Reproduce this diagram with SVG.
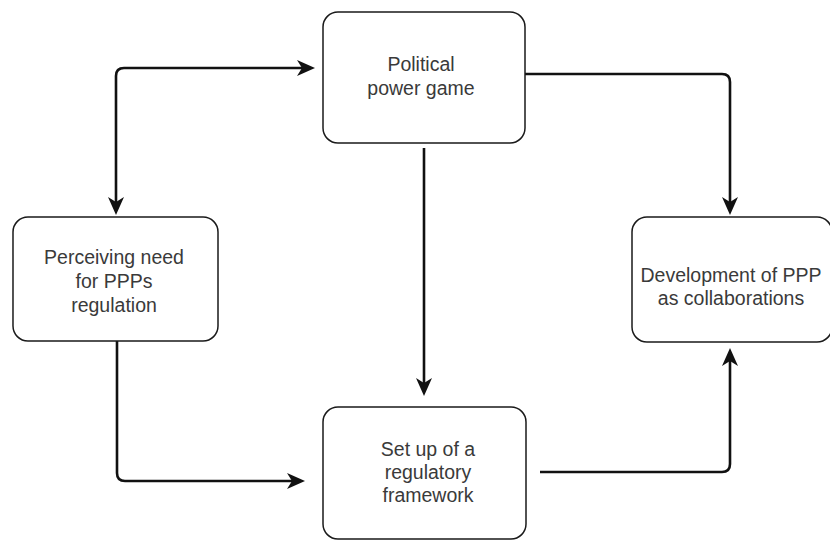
<svg xmlns="http://www.w3.org/2000/svg" width="830" height="541" viewBox="0 0 830 541">
  <defs>
    <style>
      .box { fill: #ffffff; stroke: #1a1a1a; stroke-width: 1.5; }
      .lbl { font-family: "Liberation Sans", Arial, sans-serif; font-size: 19.5px; fill: #3a3a3a; text-anchor: middle; }
      .conn { fill: none; stroke: #111111; stroke-width: 2.6; }
    </style>
    <marker id="arrow" viewBox="0 0 18 16" refX="6" refY="8" markerWidth="18" markerHeight="16" markerUnits="userSpaceOnUse" orient="auto-start-reverse">
      <path d="M0,0 L18,8 L0,16 L5,8 Z" fill="#111111"/>
    </marker>
  </defs>
  <rect width="830" height="541" fill="#ffffff"/>

  <g id="connectors">
    <path class="conn" d="M116,203 L116,76 Q116,68 124,68 L303,68" marker-start="url(#arrow)" marker-end="url(#arrow)"/>
    <path class="conn" d="M525,74 L722,74 Q730,74 730,82 L730,203" marker-end="url(#arrow)"/>
    <path class="conn" d="M424,148 L424,384" marker-end="url(#arrow)"/>
    <path class="conn" d="M117,341 L117,473 Q117,481 125,481 L293,481" marker-end="url(#arrow)"/>
    <path class="conn" d="M540,472 L722,472 Q730,472 730,464 L730,360" marker-end="url(#arrow)"/>
  </g>

  <g id="node-political">
    <rect class="box" x="323" y="12" width="202" height="131" rx="15"/>
    <text class="lbl" x="421" y="71">Political</text>
    <text class="lbl" x="421" y="95">power game</text>
  </g>

  <g id="node-perceiving">
    <rect class="box" x="13" y="217" width="205" height="124" rx="15"/>
    <text class="lbl" x="114" y="264">Perceiving need</text>
    <text class="lbl" x="114" y="288">for PPPs</text>
    <text class="lbl" x="114" y="312">regulation</text>
  </g>

  <g id="node-development">
    <rect class="box" x="632" y="217" width="200" height="125" rx="15"/>
    <text class="lbl" x="731" y="282">Development of PPP</text>
    <text class="lbl" x="731" y="305">as collaborations</text>
  </g>

  <g id="node-setup">
    <rect class="box" x="323" y="407" width="203" height="132" rx="15"/>
    <text class="lbl" x="428" y="456">Set up of a</text>
    <text class="lbl" x="428" y="479">regulatory</text>
    <text class="lbl" x="428" y="502">framework</text>
  </g>
</svg>
